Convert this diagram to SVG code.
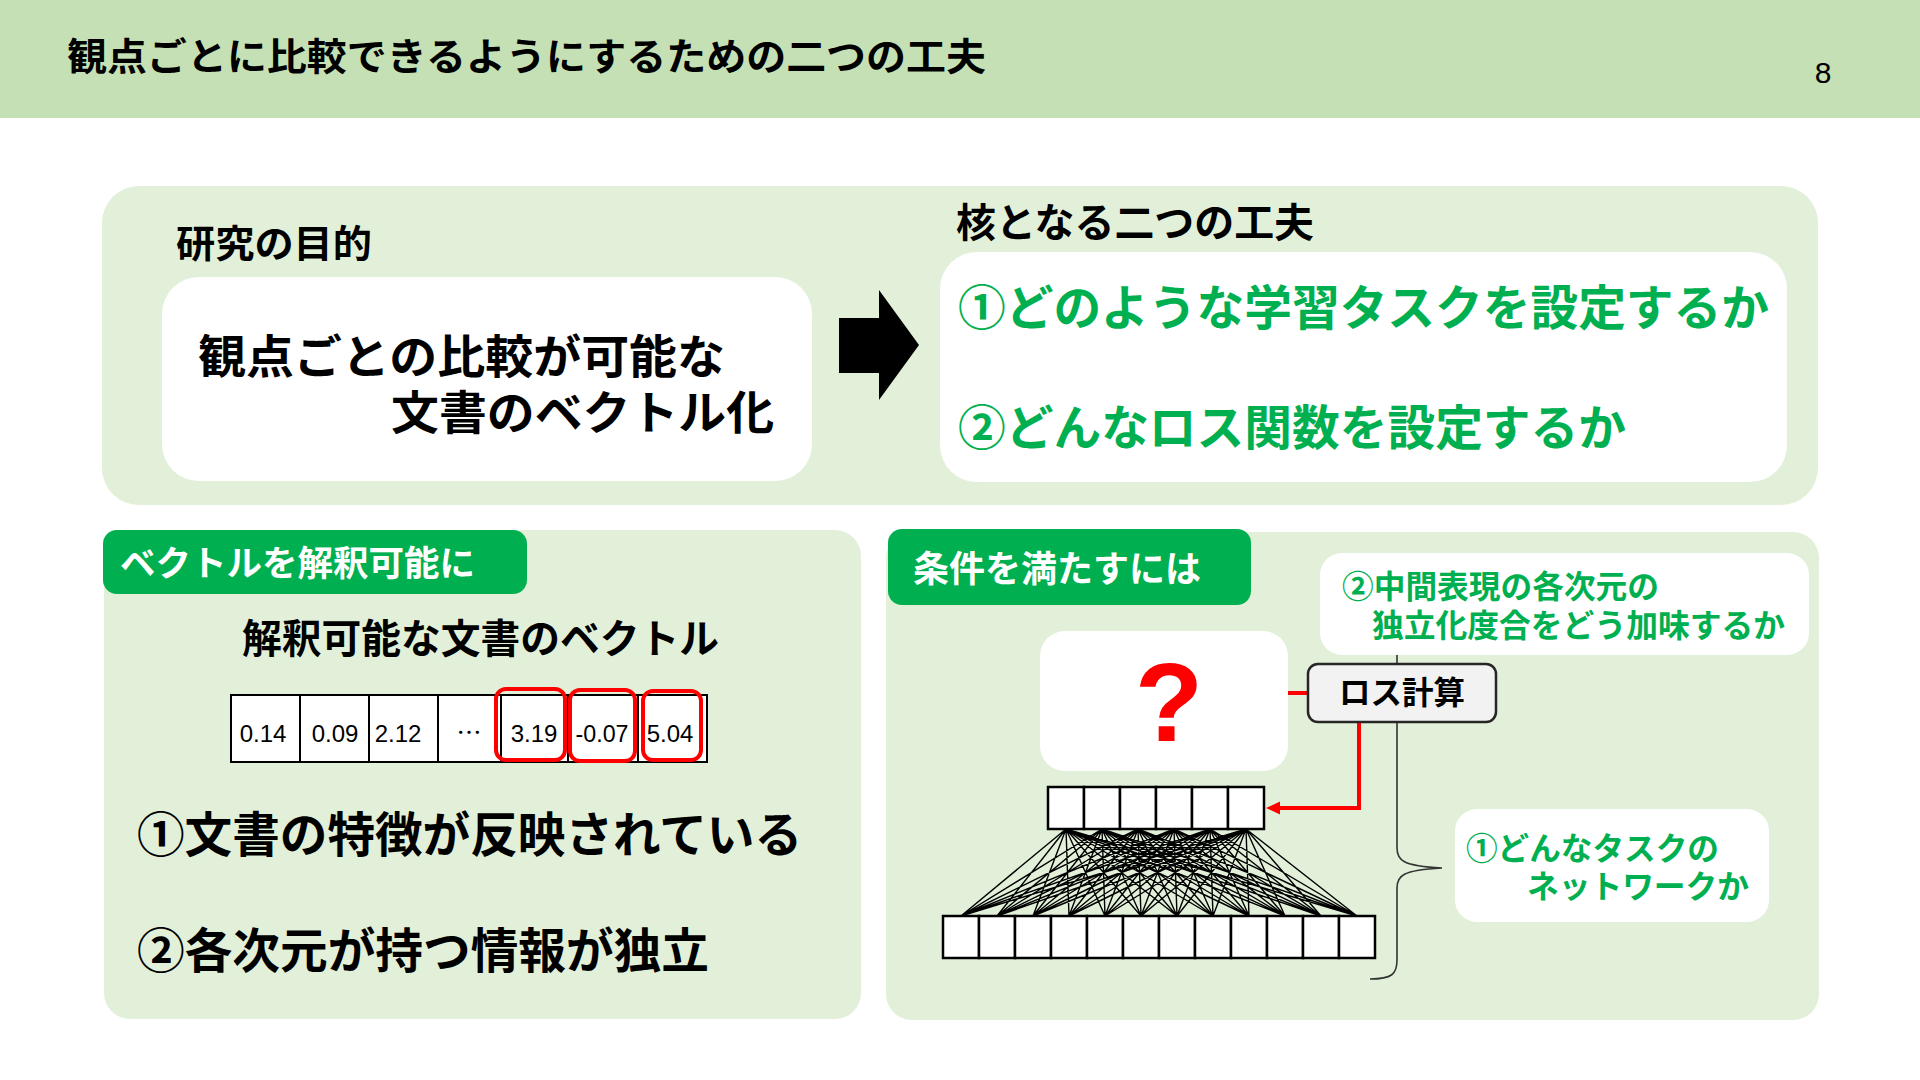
<svg xmlns="http://www.w3.org/2000/svg" width="1920" height="1080" viewBox="0 0 1920 1080">
<style>
.jp{font-family:"Noto Sans CJK JP","Noto Sans CJK SC",sans-serif;font-weight:bold}
.blk{fill:#000}
.grn{fill:#00B050}
.wht{fill:#fff}
.panel{fill:#E2F0D9}
.wbox{fill:#fff}
.label{fill:#00B050}
.cell{fill:#fff;stroke:#000;stroke-width:2.5}
.vcell{fill:#fff;stroke:#000;stroke-width:2}
.num{font-family:"Liberation Sans",Arial,sans-serif;font-size:24px;fill:#000}
.hl{fill:none;stroke:#FF0000;stroke-width:4}
.red{fill:none;stroke:#FF0000;stroke-width:4}
</style>
<defs>
<marker id="ah" markerUnits="userSpaceOnUse" markerWidth="16" markerHeight="14" refX="9" refY="6.5" orient="auto">
<path d="M0,0 L14,6.5 L0,13 z" fill="#FF0000"/>
</marker>
</defs>
<rect width="1920" height="1080" fill="#fff"/>
<g id="header">
<rect x="0" y="0" width="1920" height="118" fill="#C5E0B4"/>
<text class="jp blk" x="67" y="70" font-size="38" textLength="919" lengthAdjust="spacingAndGlyphs">観点ごとに比較できるようにするための二つの工夫</text>
<text x="1823" y="83" font-family="Liberation Sans, Arial, sans-serif" font-size="30" text-anchor="middle" fill="#000">8</text>
</g>
<g id="panel-top">
<rect class="panel" x="102" y="186" width="1716" height="319" rx="37"/>
</g>
<g id="panel-left">
<rect class="panel" x="104" y="530" width="757" height="489" rx="26"/>
</g>
<g id="panel-right">
<rect class="panel" x="886" y="532" width="933" height="488" rx="26"/>
</g>
<g id="connectors">
<path d="M1370,615 C1392,615 1397,622 1397,640 L1397,848 C1397,860 1402,866 1442,868 C1402,870 1397,876 1397,888 L1397,960 C1397,974 1392,979 1370,979" fill="none" stroke="#333" stroke-width="1.6"/>
<line class="red" x1="1288" y1="693" x2="1308" y2="693"/>
<polyline class="red" points="1359,722 1359,808 1271,808" marker-end="url(#ah)"/>
<path fill="none" stroke="#000" stroke-width="1.4" d="M1066 829L961 916M1066 829L997 916M1066 829L1033 916M1066 829L1069 916M1066 829L1105 916M1066 829L1141 916M1066 829L1177 916M1066 829L1213 916M1066 829L1249 916M1066 829L1285 916M1066 829L1321 916M1066 829L1357 916
M1102 829L961 916M1102 829L997 916M1102 829L1033 916M1102 829L1069 916M1102 829L1105 916M1102 829L1141 916M1102 829L1177 916M1102 829L1213 916M1102 829L1249 916M1102 829L1285 916M1102 829L1321 916M1102 829L1357 916
M1138 829L961 916M1138 829L997 916M1138 829L1033 916M1138 829L1069 916M1138 829L1105 916M1138 829L1141 916M1138 829L1177 916M1138 829L1213 916M1138 829L1249 916M1138 829L1285 916M1138 829L1321 916M1138 829L1357 916
M1174 829L961 916M1174 829L997 916M1174 829L1033 916M1174 829L1069 916M1174 829L1105 916M1174 829L1141 916M1174 829L1177 916M1174 829L1213 916M1174 829L1249 916M1174 829L1285 916M1174 829L1321 916M1174 829L1357 916
M1210 829L961 916M1210 829L997 916M1210 829L1033 916M1210 829L1069 916M1210 829L1105 916M1210 829L1141 916M1210 829L1177 916M1210 829L1213 916M1210 829L1249 916M1210 829L1285 916M1210 829L1321 916M1210 829L1357 916
M1246 829L961 916M1246 829L997 916M1246 829L1033 916M1246 829L1069 916M1246 829L1105 916M1246 829L1141 916M1246 829L1177 916M1246 829L1213 916M1246 829L1249 916M1246 829L1285 916M1246 829L1321 916M1246 829L1357 916"/>
</g>
<g id="purpose-title">
<text class="jp blk" x="176" y="257" font-size="38" textLength="196" lengthAdjust="spacingAndGlyphs">研究の目的</text>
</g>
<g id="purpose-box">
<rect class="wbox" x="162" y="277" width="650" height="204" rx="37"/>
<text class="jp blk" x="198" y="373" font-size="46" textLength="527" lengthAdjust="spacingAndGlyphs">観点ごとの比較が可能な</text>
<text class="jp blk" x="391" y="429" font-size="46" textLength="383" lengthAdjust="spacingAndGlyphs">文書のベクトル化</text>
</g>
<g id="big-arrow">
<polygon points="839,318 879,318 879,290 919,345 879,400 879,373 839,373" fill="#000"/>
</g>
<g id="core-title">
<text class="jp blk" x="956" y="237" font-size="40" textLength="358" lengthAdjust="spacingAndGlyphs">核となる二つの工夫</text>
</g>
<g id="core-box">
<rect class="wbox" x="940" y="252" width="847" height="230" rx="37"/>
<text class="jp grn" x="958" y="325" font-size="48" textLength="811" lengthAdjust="spacingAndGlyphs">①どのような学習タスクを設定するか</text>
<text class="jp grn" x="958" y="445" font-size="48" textLength="668" lengthAdjust="spacingAndGlyphs">②どんなロス関数を設定するか</text>
</g>
<g id="label-left">
<rect class="label" x="103" y="530" width="424" height="64" rx="14"/>
<text class="jp wht" x="120" y="576" font-size="35" textLength="355" lengthAdjust="spacingAndGlyphs">ベクトルを解釈可能に</text>
</g>
<g id="vector-title">
<text class="jp blk" x="242" y="653" font-size="40" textLength="477" lengthAdjust="spacingAndGlyphs">解釈可能な文書のベクトル</text>
</g>
<g id="vector">
<rect class="vcell" x="231" y="695" width="69" height="67"/>
<rect class="vcell" x="300" y="695" width="69" height="67"/>
<rect class="vcell" x="369" y="695" width="69" height="67"/>
<rect class="vcell" x="438" y="695" width="63" height="67"/>
<rect class="vcell" x="501" y="695" width="67" height="67"/>
<rect class="vcell" x="568" y="695" width="70" height="67"/>
<rect class="vcell" x="638" y="695" width="69" height="67"/>
<text class="num" x="263" y="742" text-anchor="middle">0.14</text>
<text class="num" x="335" y="742" text-anchor="middle">0.09</text>
<text class="num" x="398" y="742" text-anchor="middle">2.12</text>
<text x="469" y="742" font-family="Noto Sans CJK JP, sans-serif" font-size="25" text-anchor="middle" fill="#000">…</text>
<text class="num" x="534" y="742" text-anchor="middle">3.19</text>
<text class="num" x="602" y="742" text-anchor="middle" textLength="53" lengthAdjust="spacingAndGlyphs">-0.07</text>
<text class="num" x="670" y="742" text-anchor="middle">5.04</text>
<rect class="hl" x="496" y="689" width="69" height="71" rx="10"/>
<rect class="hl" x="570" y="690" width="65" height="71" rx="10"/>
<rect class="hl" x="643" y="691" width="58" height="69" rx="10"/>
</g>
<g id="cond-1">
<text class="jp blk" x="137" y="852" font-size="48" textLength="665" lengthAdjust="spacingAndGlyphs">①文書の特徴が反映されている</text>
</g>
<g id="cond-2">
<text class="jp blk" x="137" y="968" font-size="48" textLength="572" lengthAdjust="spacingAndGlyphs">②各次元が持つ情報が独立</text>
</g>
<g id="label-right">
<rect class="label" x="888" y="529" width="363" height="76" rx="14"/>
<text class="jp wht" x="913" y="582" font-size="36" textLength="288" lengthAdjust="spacingAndGlyphs">条件を満たすには</text>
</g>
<g id="loss-note">
<rect class="wbox" x="1320" y="553" width="489" height="102" rx="22"/>
<text class="jp grn" x="1342" y="598" font-size="32" textLength="317" lengthAdjust="spacingAndGlyphs">②中間表現の各次元の</text>
<text class="jp grn" x="1372" y="637" font-size="32" textLength="413" lengthAdjust="spacingAndGlyphs">独立化度合をどう加味するか</text>
</g>
<g id="question-box">
<rect class="wbox" x="1040" y="631" width="248" height="140" rx="25"/>
<text x="1169" y="741" font-family="Liberation Sans, Arial, sans-serif" font-weight="bold" font-size="112" text-anchor="middle" fill="#FF0000">?</text>
</g>
<g id="loss-box">
<rect x="1308" y="664" width="188" height="58" rx="10" fill="#F2F2F2" stroke="#262626" stroke-width="2.5"/>
<text class="jp blk" x="1339" y="704" font-size="32" textLength="126" lengthAdjust="spacingAndGlyphs">ロス計算</text>
</g>
<g id="hidden-layer">
<rect class="cell" x="1048" y="787" width="36" height="42"/>
<rect class="cell" x="1084" y="787" width="36" height="42"/>
<rect class="cell" x="1120" y="787" width="36" height="42"/>
<rect class="cell" x="1156" y="787" width="36" height="42"/>
<rect class="cell" x="1192" y="787" width="36" height="42"/>
<rect class="cell" x="1228" y="787" width="36" height="42"/>
</g>
<g id="input-layer">
<rect class="cell" x="943" y="916" width="36" height="42"/>
<rect class="cell" x="979" y="916" width="36" height="42"/>
<rect class="cell" x="1015" y="916" width="36" height="42"/>
<rect class="cell" x="1051" y="916" width="36" height="42"/>
<rect class="cell" x="1087" y="916" width="36" height="42"/>
<rect class="cell" x="1123" y="916" width="36" height="42"/>
<rect class="cell" x="1159" y="916" width="36" height="42"/>
<rect class="cell" x="1195" y="916" width="36" height="42"/>
<rect class="cell" x="1231" y="916" width="36" height="42"/>
<rect class="cell" x="1267" y="916" width="36" height="42"/>
<rect class="cell" x="1303" y="916" width="36" height="42"/>
<rect class="cell" x="1339" y="916" width="36" height="42"/>
</g>
<g id="task-note">
<rect class="wbox" x="1455" y="809" width="314" height="113" rx="22"/>
<text class="jp grn" x="1466" y="860" font-size="32" textLength="253" lengthAdjust="spacingAndGlyphs">①どんなタスクの</text>
<text class="jp grn" x="1527" y="898" font-size="32" textLength="222" lengthAdjust="spacingAndGlyphs">ネットワークか</text>
</g>
</svg>
